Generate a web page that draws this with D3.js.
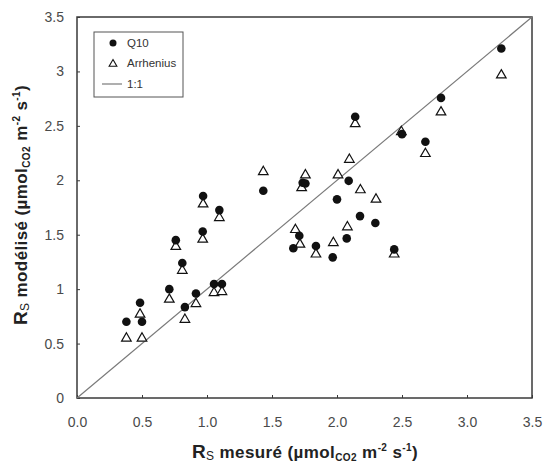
<!DOCTYPE html>
<html><head><meta charset="utf-8">
<script src="https://cdn.jsdelivr.net/npm/d3@7"></script>
<style>body{margin:0;background:#fff}svg{display:block}text{font-family:"Liberation Sans",Arial,sans-serif}</style>
</head><body><svg id="c" width="544" height="467"></svg>
<script>
const measured = [0.38,0.50,0.485,0.71,0.76,0.81,0.83,0.915,0.97,0.967,1.054,1.115,1.095,1.433,1.664,1.71,1.736,1.838,1.967,2.0,2.075,2.09,2.14,2.177,2.295,2.44,2.5,2.68,2.80,3.264,1.757];
const q10 = [0.70,0.70,0.875,1.0,1.45,1.24,0.835,0.96,1.855,1.53,1.047,1.047,1.726,1.904,1.375,1.49,1.977,1.396,1.292,1.825,1.466,1.995,2.583,1.671,1.607,1.365,2.424,2.354,2.757,3.21,1.97];
const arrhenius = [0.557,0.557,0.778,0.915,1.40,1.18,0.73,0.875,1.79,1.466,0.976,0.985,1.665,2.087,1.555,1.42,1.94,1.33,1.435,2.057,1.58,2.2,2.528,1.92,1.834,1.33,2.455,2.253,2.635,2.975,2.057];
const arrX = [0.38,0.50,0.485,0.71,0.76,0.81,0.83,0.915,0.97,0.967,1.054,1.115,1.095,1.433,1.68,1.715,1.728,1.838,1.972,2.008,2.08,2.095,2.14,2.18,2.30,2.44,2.495,2.68,2.80,3.264,1.757];
const xTicks = [0,0.5,1,1.5,2,2.5,3,3.5];
const yTicks = [0,0.5,1,1.5,2,2.5,3,3.5];
const legendLabels = ["Q10","Arrhenius","1:1"];

const svg = d3.select("#c");
const L=77,R=532,T=17,B=398;
const x = d3.scaleLinear().domain([0,3.5]).range([L,R]);
const y = d3.scaleLinear().domain([0,3.5]).range([B,T]);
const axCol="#3a3a3a";

svg.append("rect").attr("x",L).attr("y",T).attr("width",R-L).attr("height",B-T)
  .attr("fill","none").attr("stroke",axCol).attr("stroke-width",1.5);

const xa = svg.append("g").attr("transform",`translate(0,${B})`)
  .call(d3.axisBottom(x).tickValues(xTicks).tickFormat(d3.format(".1f")).tickSizeInner(-3).tickSizeOuter(0).tickPadding(19));
const ya = svg.append("g").attr("transform",`translate(${L},0)`)
  .call(d3.axisLeft(y).tickValues(yTicks).tickFormat(d=>String(d)).tickSizeInner(-3).tickSizeOuter(0).tickPadding(13));
[xa,ya].forEach(g=>{
  g.select(".domain").remove();
  g.selectAll(".tick line").attr("stroke",axCol).attr("stroke-width",1);
  g.selectAll(".tick text").attr("font-size",14).attr("fill","#4a4a4a").attr("font-family","Liberation Sans, Arial, sans-serif");
});

svg.append("line").attr("x1",x(0)).attr("y1",y(0)).attr("x2",x(3.5)).attr("y2",y(3.5))
  .attr("stroke","#7a7a7a").attr("stroke-width",1.2);

const tri = d3.symbol().type(d3.symbolTriangle).size(40);
svg.append("g").selectAll("path").data(arrhenius).join("path")
  .attr("d",tri).attr("transform",(d,i)=>`translate(${x(arrX[i])},${y(d)+1})`)
  .attr("fill","#fff").attr("stroke","#111").attr("stroke-width",1.2);
svg.append("g").selectAll("circle").data(q10).join("circle")
  .attr("cx",(d,i)=>x(measured[i])).attr("cy",d=>y(d)).attr("r",4.3).attr("fill","#111");

const lg = svg.append("g");
lg.append("rect").attr("x",94).attr("y",32).attr("width",89).attr("height",65)
  .attr("fill","#fff").attr("stroke","#555").attr("stroke-width",1);
lg.append("circle").attr("cx",113).attr("cy",43).attr("r",3.5).attr("fill","#111");
lg.append("path").attr("d",d3.symbol().type(d3.symbolTriangle).size(26)).attr("transform","translate(113,64)")
  .attr("fill","#fff").attr("stroke","#111").attr("stroke-width",1.1);
lg.append("line").attr("x1",102).attr("x2",122).attr("y1",84).attr("y2",84).attr("stroke","#7a7a7a").attr("stroke-width",1.2);
lg.selectAll("text").data(legendLabels).join("text")
  .attr("x",127).attr("y",(d,i)=>[43,63,84][i]+4).attr("font-size",11.5).attr("fill","#333").text(d=>d);

function title(sel, word){
  sel.attr("font-weight","bold").attr("fill","#222").attr("font-size",17).attr("letter-spacing",0.4);
  sel.append("tspan").text("R").attr("font-size",19);
  sel.append("tspan").text("S").attr("font-size",12).attr("font-weight","normal").attr("dy",2);
  sel.append("tspan").text(word + " (µmol").attr("dy",-2);
  sel.append("tspan").text("CO2").attr("font-size",10).attr("dy",3);
  sel.append("tspan").text(" m").attr("dy",-3);
  sel.append("tspan").text("-2").attr("font-size",10).attr("dy",-7);
  sel.append("tspan").text(" s").attr("dy",7);
  sel.append("tspan").text("-1").attr("font-size",10).attr("dy",-7);
  sel.append("tspan").text(")").attr("dy",7);
  return sel;
}
title(svg.append("text").attr("x",305).attr("y",458).attr("text-anchor","middle"), " mesuré");
title(svg.append("text").attr("transform","translate(27,205) rotate(-90)").attr("text-anchor","middle"), " modélisé");
</script></body></html>
